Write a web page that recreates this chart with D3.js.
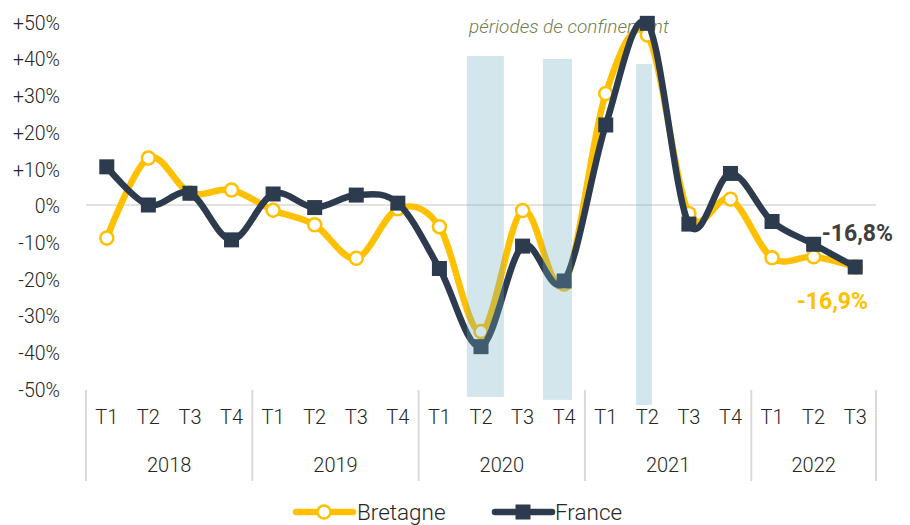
<!DOCTYPE html>
<html><head><meta charset="utf-8">
<script src="https://cdn.jsdelivr.net/npm/d3@7"></script>
<style>
html,body{margin:0;padding:0;background:#fff;}
svg{display:block;font-family:Roboto,"Open Sans",sans-serif;}
</style></head>
<body><svg id="c" width="910" height="525"></svg>
<script>
const quarters = ["T1","T2","T3","T4","T1","T2","T3","T4","T1","T2","T3","T4","T1","T2","T3","T4","T1","T2","T3"];
const years = ["2018","2019","2020","2021","2022"];
const yearQuarterCount = [4,4,4,4,3];
const bretagne = [-9.0,12.8,3.3,4.1,-1.4,-5.4,-14.5,-1.0,-5.9,-34.5,-1.5,-21.5,30.4,46.3,-2.3,1.6,-14.4,-14.1,-16.9];
const france = [10.4,0.0,3.2,-9.5,3.0,-0.7,2.7,0.5,-17.3,-38.6,-11.2,-20.7,21.8,49.5,-5.2,8.6,-4.5,-10.7,-16.9];
const yTicks = [50,40,30,20,10,0,-10,-20,-30,-40,-50];
// lockdown periods (in quarter units from start of 2018) and their bar extents (%)
const lockStart = [9.16,10.99,13.23];
const lockEnd = [10.05,11.69,13.61];
const lockTop = [40.6,39.8,38.4];
const lockBottom = [-52.3,-53.1,-54.5];
const seriesNames = ["Bretagne","France"];
const endLabels = ["-16,9%","-16,8%"];

const yellow = "#FFC000", navy = "#2D3B4E";
const svg = d3.select("#c");
const x = d3.scaleBand().domain(d3.range(quarters.length)).range([86,876]).padding(0);
const xq = d3.scaleLinear().domain([0,quarters.length]).range([86,876]);
const y = d3.scaleLinear().domain([-50,50]).range([388.5,21.5]);
const cx = i => x(i) + x.bandwidth()/2;

// zero line
svg.append("line").attr("x1",86).attr("x2",876).attr("y1",y(0)).attr("y2",y(0))
  .attr("stroke","#d9d9d9").attr("stroke-width",1.5);

// y axis
const yAxis = d3.axisLeft(y).tickValues(yTicks).tickSize(0)
  .tickFormat(v => (v>0?"+":"") + v + "%");
const gy = svg.append("g").attr("transform","translate(63,1.5)").call(yAxis);
gy.select(".domain").remove();
gy.selectAll("text").attr("font-size",19.5).attr("font-weight",300).attr("fill","#262626")
  .attr("font-family","Roboto,sans-serif").attr("dx",0);

// x axis quarters
const xAxis = d3.axisBottom(x).tickSize(0).tickFormat(i => quarters[i]);
const gx = svg.append("g").attr("transform","translate(0,407)").call(xAxis);
gx.select(".domain").remove();
gx.selectAll("text").attr("font-size",20).attr("font-weight",300).attr("fill","#262626")
  .attr("font-family","Roboto,sans-serif");

// year groups
let start = 0;
const bounds = [0];
yearQuarterCount.forEach(n => { start += n; bounds.push(start); });
const bx = b => b < quarters.length ? x(b) : x.range()[1];
bounds.forEach(b => {
  svg.append("line").attr("x1",bx(b)).attr("x2",bx(b)).attr("y1",390).attr("y2",481)
    .attr("stroke","#d9d9d9").attr("stroke-width",2);
});
years.forEach((yr,k) => {
  const mid = (bx(bounds[k]) + bx(bounds[k+1]))/2;
  svg.append("text").attr("x",mid).attr("y",472).attr("text-anchor","middle")
    .attr("font-size",20).attr("font-weight",300).attr("fill","#262626").text(yr);
});

// annotation
svg.append("text").attr("x",469).attr("y",33).attr("font-size",19).attr("font-style","italic")
  .attr("font-weight",300).attr("fill","#6f7f4f").text("périodes de confinement");

// lines
const line = d3.line().x((d,i)=>cx(i)).y(d=>y(d)).curve(d3.curveCardinal.tension(0));
svg.append("path").datum(bretagne).attr("d",line).attr("fill","none")
  .attr("stroke",yellow).attr("stroke-width",6.5).attr("stroke-linejoin","round");
svg.selectAll("circle.b").data(bretagne).enter().append("circle").attr("class","b")
  .attr("cx",(d,i)=>cx(i)).attr("cy",d=>y(d)).attr("r",6.5)
  .attr("fill","#fff").attr("stroke",yellow).attr("stroke-width",2.5);
svg.append("path").datum(france).attr("d",line).attr("fill","none")
  .attr("stroke",navy).attr("stroke-width",6.5).attr("stroke-linejoin","round");
const sq = 15;
svg.selectAll("rect.f").data(france).enter().append("rect").attr("class","f")
  .attr("x",(d,i)=>cx(i)-sq/2).attr("y",d=>y(d)-sq/2).attr("width",sq).attr("height",sq)
  .attr("fill",navy);

// lockdown bars (translucent, on top)
lockStart.forEach((s,k) => {
  svg.append("rect").attr("x",xq(s)).attr("width",xq(lockEnd[k])-xq(s))
    .attr("y",y(lockTop[k])).attr("height",y(lockBottom[k])-y(lockTop[k]))
    .attr("fill","rgb(108,172,192)").attr("fill-opacity",0.3);
});

// end labels
svg.append("text").attr("x",893).attr("y",241).attr("text-anchor","end")
  .attr("font-size",23).attr("font-weight",700).attr("fill","#404040").text(endLabels[1]);
svg.append("text").attr("x",868).attr("y",309).attr("text-anchor","end")
  .attr("font-size",23).attr("font-weight",700).attr("fill",yellow).text(endLabels[0]);

// legend
const ly = 512;
svg.append("line").attr("x1",296).attr("x2",353).attr("y1",ly).attr("y2",ly)
  .attr("stroke",yellow).attr("stroke-width",6.5).attr("stroke-linecap","round");
svg.append("circle").attr("cx",324).attr("cy",ly).attr("r",6.5).attr("fill","#fff")
  .attr("stroke",yellow).attr("stroke-width",2.5);
svg.append("text").attr("x",357).attr("y",ly+8).attr("font-size",22.5).attr("font-weight",300)
  .attr("fill","#262626").text(seriesNames[0]);
svg.append("line").attr("x1",495).attr("x2",552).attr("y1",ly).attr("y2",ly)
  .attr("stroke",navy).attr("stroke-width",6.5).attr("stroke-linecap","round");
svg.append("rect").attr("x",523-sq/2).attr("y",ly-sq/2).attr("width",sq).attr("height",sq).attr("fill",navy);
svg.append("text").attr("x",555).attr("y",ly+8).attr("font-size",22.5).attr("font-weight",300)
  .attr("fill","#262626").text(seriesNames[1]);
</script></body></html>
